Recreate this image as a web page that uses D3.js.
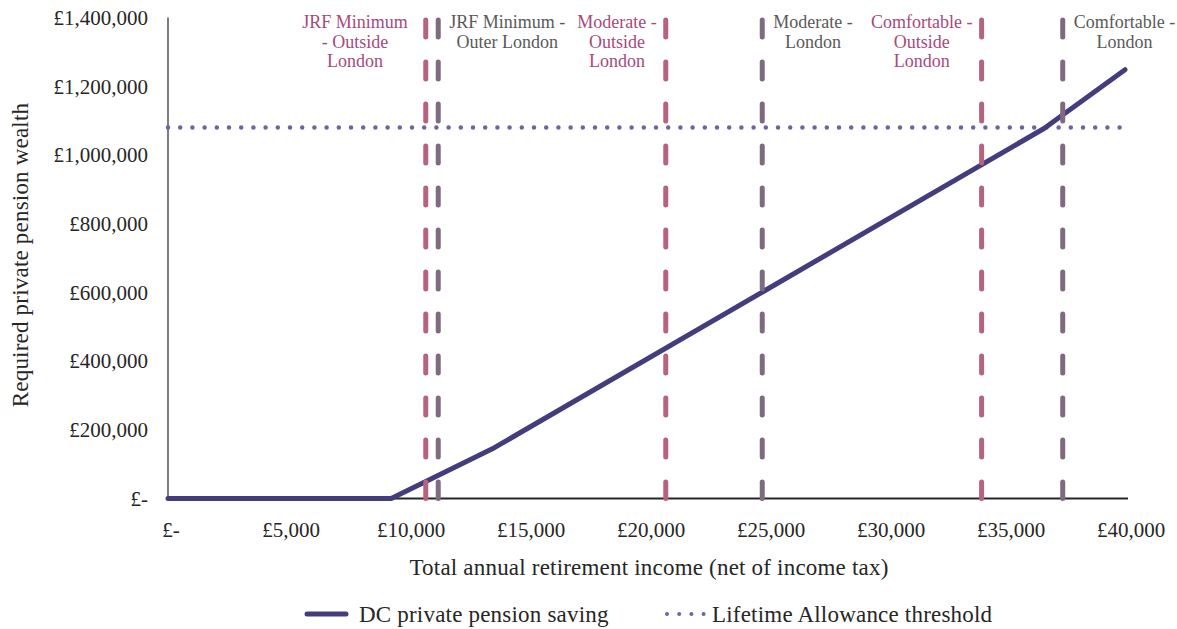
<!DOCTYPE html>
<html><head><meta charset="utf-8">
<script src="https://cdn.jsdelivr.net/npm/d3@7"></script>
<style>body{margin:0;background:#fff}svg{display:block}text{font-family:"Liberation Serif","DejaVu Serif",serif}</style>
</head><body>
<svg id="c" width="1177" height="629"></svg>
<script>
// Data
const incomeValues = [0, 9300, 13600, 36500, 40000];
const wealthValues = [0, 0, 148000, 1077000, 1248000];
const lifetimeAllowance = 1080000;
const markerNames = [
  ["JRF Minimum", "- Outside", "London"],
  ["JRF Minimum -", "Outer London"],
  ["Moderate -", "Outside", "London"],
  ["Moderate -", "London"],
  ["Comfortable -", "Outside", "London"],
  ["Comfortable -", "London"]
];
const markerIncomes = [10740, 11260, 20740, 24760, 33900, 37280];
const markerGroups = ["outside", "london", "outside", "london", "outside", "london"];
const labelSide = ["left", "right", "left", "right", "left", "right"];
const xTicks = [0, 5000, 10000, 15000, 20000, 25000, 30000, 35000, 40000];
const yTicks = [0, 200000, 400000, 600000, 800000, 1000000, 1200000, 1400000];
const seriesNames = ["DC private pension saving", "Lifetime Allowance threshold"];

const svg = d3.select("#c");
const x = d3.scaleLinear().domain([0, 40000]).range([168, 1128]);
const y = d3.scaleLinear().domain([0, 1400000]).range([498.5, 17.5]);
const fmt = v => v === 0 ? "£-" : "£" + d3.format(",")(v);

const dashColor = {outside: "#B5637F", london: "#7F6A80"};
const textColor = {outside: "#A8497A", london: "#595959"};

// Y tick labels
svg.append("g").selectAll("text").data(yTicks).join("text")
  .attr("x", 148).attr("y", d => y(d)).attr("dy", "0.35em")
  .attr("text-anchor", "end").attr("font-size", 21).attr("fill", "#262626")
  .text(fmt);
// X tick labels
svg.append("g").selectAll("text").data(xTicks).join("text")
  .attr("x", d => x(d) + 3).attr("y", 530).attr("dy", "0.35em")
  .attr("text-anchor", "middle").attr("font-size", 21).attr("fill", "#262626")
  .text(fmt);

// Axes lines
svg.append("line").attr("x1", x(0)).attr("x2", x(0)).attr("y1", y(1400000)).attr("y2", y(0))
  .attr("stroke", "#262626").attr("stroke-width", 1.2);
svg.append("line").attr("x1", x(0)).attr("x2", x(40000)).attr("y1", y(0)).attr("y2", y(0))
  .attr("stroke", "#262626").attr("stroke-width", 2);

// Lifetime allowance dotted
svg.append("line").attr("x1", x(0)).attr("x2", x(39870)).attr("y1", y(lifetimeAllowance)).attr("y2", y(lifetimeAllowance))
  .attr("stroke", "#6F64A0").attr("stroke-width", 4.5).attr("stroke-linecap", "round")
  .attr("stroke-dasharray", "0 12.2");

// Main line
const line = d3.line().x((d, i) => x(incomeValues[i]) - (i === incomeValues.length - 1 ? 3 : 0)).y(d => y(d));
svg.append("path").datum(wealthValues).attr("d", line)
  .attr("fill", "none").attr("stroke", "#433D7E").attr("stroke-width", 5)
  .attr("stroke-linecap", "round").attr("stroke-linejoin", "round");

// Vertical marker lines
svg.append("g").selectAll("line").data(markerIncomes).join("line")
  .attr("x1", d => x(d)).attr("x2", d => x(d))
  .attr("y1", y(1400000) + 2.5).attr("y2", y(0))
  .attr("stroke", (d, i) => dashColor[markerGroups[i]]).attr("stroke-width", 5)
  .attr("stroke-linecap", "round").attr("stroke-dasharray", "17 25");

// Marker labels
markerNames.forEach((lines, i) => {
  const px = x(markerIncomes[i]);
  const t = svg.append("text").attr("text-anchor", "middle").attr("font-size", 18)
    .attr("fill", textColor[markerGroups[i]]);
  const spans = lines.map((s, j) => t.append("tspan").attr("y", 28 + j * 19.5).text(s));
  const w = d3.max(spans, s => s.node().getComputedTextLength());
  const cx = labelSide[i] === "left" ? px - (i === 0 ? 18 : 9) - w / 2 : px + 11 + w / 2;
  spans.forEach(s => s.attr("x", cx));
});

// Axis titles
svg.append("text").attr("x", 649).attr("y", 567).attr("dy", "0.35em").attr("text-anchor", "middle")
  .attr("font-size", 23).attr("letter-spacing", 0.2).attr("fill", "#262626").text("Total annual retirement income (net of income tax)");
svg.append("text").attr("transform", "translate(20,255) rotate(-90)").attr("dy", "0.35em").attr("text-anchor", "middle")
  .attr("font-size", 23).attr("letter-spacing", 0.2).attr("fill", "#262626").text("Required private pension wealth");

// Legend
const lg = svg.append("g");
lg.append("line").attr("x1", 307).attr("x2", 346).attr("y1", 614).attr("y2", 614)
  .attr("stroke", "#433D7E").attr("stroke-width", 5).attr("stroke-linecap", "round");
lg.append("text").attr("x", 359).attr("y", 614).attr("dy", "0.35em").attr("font-size", 23).attr("letter-spacing", 0.2)
  .attr("fill", "#262626").text(seriesNames[0]);
lg.append("line").attr("x1", 667).attr("x2", 705).attr("y1", 614).attr("y2", 614)
  .attr("stroke", "#6F64A0").attr("stroke-width", 4).attr("stroke-linecap", "round")
  .attr("stroke-dasharray", "0 12.2");
lg.append("text").attr("x", 712).attr("y", 614).attr("dy", "0.35em").attr("font-size", 23).attr("letter-spacing", 0.2)
  .attr("fill", "#262626").text(seriesNames[1]);
</script>
</body></html>
